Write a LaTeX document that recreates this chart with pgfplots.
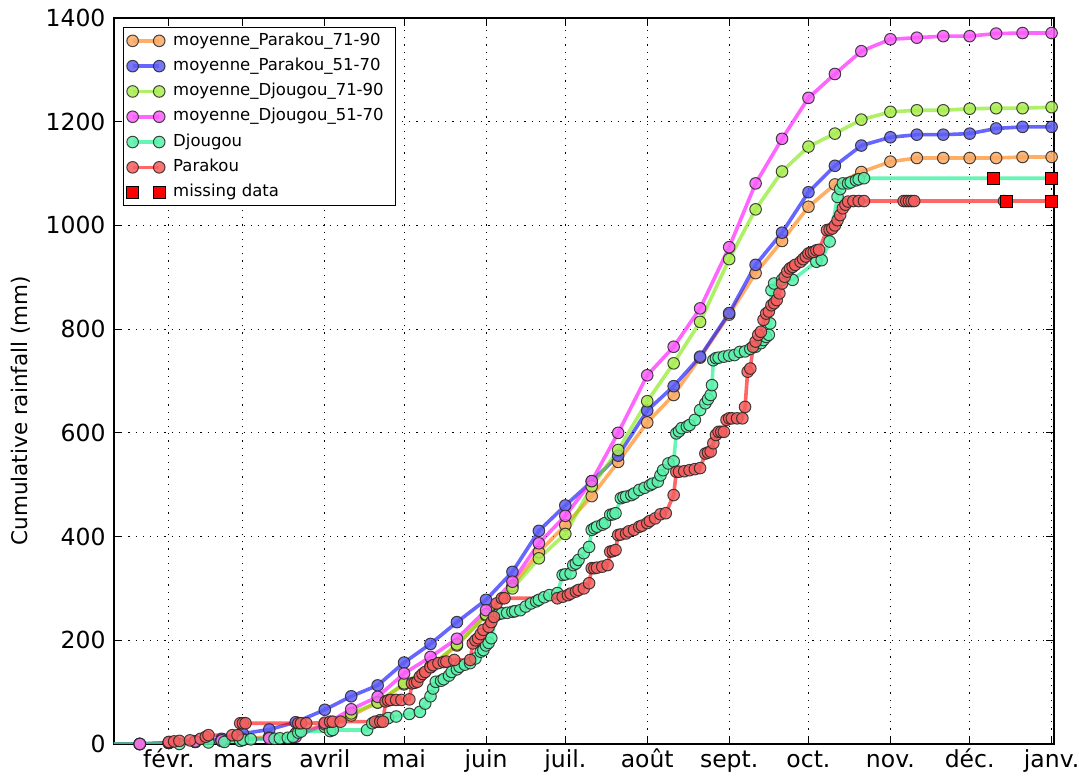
\documentclass[border=0pt]{standalone}
\usepackage{fontspec}
\setmainfont{DejaVu Sans}
\usepackage{pgfplots}
\pgfplotsset{compat=1.18}
\definecolor{cOr}{RGB}{255,120,0}
\definecolor{cBl}{RGB}{0,0,255}
\definecolor{cGr}{RGB}{120,230,0}
\definecolor{cPk}{RGB}{255,0,255}
\definecolor{cTe}{RGB}{0,240,130}
\definecolor{cRd}{RGB}{255,0,0}
\definecolor{mOr}{RGB}{250,170,100}
\definecolor{mBl}{RGB}{95,95,245}
\definecolor{mGr}{RGB}{170,238,80}
\definecolor{mPk}{RGB}{250,95,250}
\definecolor{mTe}{RGB}{90,242,170}
\definecolor{mRd}{RGB}{245,95,95}
\pgfplotsset{
  lg/.style={legend image code/.code={\draw[##1] plot coordinates {(0pt,0pt) (26.6pt,0pt)};}},
  ser/.style 2 args={color=#1, line width=3.6pt, opacity=0.6, mark=*, mark size=5.8pt,
    mark options={fill=#2, draw=black!85, line width=1pt, solid, opacity=0.85}, lg},
}
\begin{document}
\begin{tikzpicture}
\path[use as bounding box] (-114pt,-37pt) rectangle (965pt,744pt);
\begin{axis}[
  at={(0pt,0pt)}, anchor=south west,
  width=940pt, height=726pt, scale only axis,
  xmin=10.25, xmax=365.9, ymin=0, ymax=1400,
  xtick={31,59,90,120,151,181,212,243,273,304,334,365},
  xticklabels={févr.,mars,avril,mai,juin,juil.,août,sept.,oct.,nov.,déc.,janv.},
  ytick={0,200,...,1400},
  /pgf/number format/1000 sep={},
  /pgf/number format/assume math mode=true,
  grid=major,
  grid style={black, line width=0.9pt, dash pattern=on 1.2pt off 6pt},
  tick style={black, line width=1pt},
  major tick length=8pt,
  axis line style={line width=1.5pt},
  tick label style={font=\fontsize{23.5}{28}\selectfont},
  xticklabel style={text height=17pt, text depth=5pt, anchor=north, yshift=-3pt},
  yticklabel style={xshift=-5pt},
  ylabel={Cumulative rainfall (mm)},
  ylabel style={font=\fontsize{21.5}{26}\selectfont, at={(rel axis cs:0,0.459)}, anchor=center, yshift=93pt},
  legend cell align=left,
  legend style={at={(rel axis cs:0.0096,0.9876)}, anchor=north west,
    draw=black, line width=1.2pt, font=\fontsize{16.5}{20}\selectfont,
    row sep=4.8pt, inner sep=3pt,
    /tikz/every odd column/.append style={column sep=6pt},
    nodes={text height=12.5pt, text depth=4pt, inner sep=2pt}},
]
\addplot[ser={cOr}{mOr}] coordinates {(10,0)(20,0)(31,2)(41,4)(51,6)(59,10)(69,14)(79,20)(90,38)(100,55)(110,80)(120,115)(130,148)(140,190)(151,248)(161,305)(171,370)(181,422)(191,478)(201,544)(212,620)(222,673)(232,745)(243,828)(253,908)(263,970)(273,1036)(283,1079)(293,1103)(304,1123)(314,1130)(324,1130)(334,1130)(344,1130)(354,1132)(365,1132)};
\addlegendentry{moyenne\_Parakou\_71-90}
\addplot[ser={cBl}{mBl}] coordinates {(10,0)(20,0)(31,2)(41,5)(51,10)(59,20)(69,28)(79,42)(90,66)(100,92)(110,113)(120,157)(130,193)(140,235)(151,278)(161,332)(171,411)(181,460)(191,506)(201,556)(212,643)(222,690)(232,747)(243,831)(253,924)(263,986)(273,1064)(283,1115)(293,1154)(304,1170)(314,1175)(324,1175)(334,1177)(344,1187)(354,1190)(365,1190)};
\addlegendentry{moyenne\_Parakou\_51-70}
\addplot[ser={cGr}{mGr}] coordinates {(10,0)(20,0)(31,2)(41,4)(51,6)(59,8)(69,12)(79,20)(90,33)(100,59)(110,80)(120,117)(130,150)(140,192)(151,250)(161,300)(171,358)(181,405)(191,497)(201,567)(212,661)(222,734)(232,814)(243,935)(253,1031)(263,1104)(273,1152)(283,1177)(293,1204)(304,1219)(314,1222)(324,1222)(334,1225)(344,1226)(354,1226)(365,1228)};
\addlegendentry{moyenne\_Djougou\_71-90\hspace*{7pt}}
\addplot[ser={cPk}{mPk}] coordinates {(10,0)(20,0)(31,3)(41,5)(51,7)(59,9)(69,11)(79,14)(90,38)(100,67)(110,91)(120,136)(130,168)(140,203)(151,258)(161,313)(171,387)(181,440)(191,507)(201,600)(212,711)(222,766)(232,840)(243,958)(253,1081)(263,1167)(273,1246)(283,1292)(293,1336)(304,1359)(314,1362)(324,1365)(334,1365)(344,1370)(354,1371)(365,1371)};
\addlegendentry{moyenne\_Djougou\_51-70\hspace*{7pt}}
\addplot[ser={cTe}{mTe}] coordinates {(10,0)(35,0)(46,3)(52,4)(58,6)(59,8)(62,9)(71,10)(73,11)(76,12)(78,14)(80,22)(81,24)(92,25)(93,27)(106,27)(108,40)(110,43)(111,46)(114,50)(117,53)(122,58)(126,62)(128,78)(130,92)(131,107)(132,120)(134,122)(135,125)(137,132)(138,139)(140,144)(141,149)(143,153)(145,156)(147,165)(149,178)(150,181)(151,190)(152,195)(153,204)(155,249)(156,251)(157,252)(159,253)(161,255)(162,256)(164,258)(166,265)(168,271)(170,275)(171,278)(173,283)(175,287)(178,291)(180,326)(181,327)(183,329)(184,345)(185,348)(186,355)(188,368)(190,380)(191,413)(192,416)(193,419)(195,423)(196,426)(198,442)(199,443)(200,445)(202,474)(203,476)(204,477)(206,480)(207,483)(209,490)(211,494)(213,499)(214,502)(216,506)(217,518)(218,528)(220,541)(222,545)(223,599)(224,603)(225,609)(227,612)(228,615)(230,625)(232,644)(234,657)(235,665)(236,673)(236.5,692)(237,740)(238,744)(239,745)(241,747)(243,749)(245,750)(247,756)(249,757)(251,762)(253,766)(255,773)(256,779)(257,785)(258,789)(258.5,811)(259,875)(260,888)(263,895)(267,895)(276,930)(278,933)(281,969)(284,1055)(285,1070)(286,1081)(288,1081)(289,1083)(291,1087)(292,1089)(294,1091)(343,1091)(365,1091)};
\addlegendentry{Djougou}
\addplot[ser={cRd}{mRd}] coordinates {(31,4)(33,5)(35,6)(39,7)(43,10)(45,14)(46,17)(55,17)(57,17)(58,40)(59,40)(60,40)(80,40)(81,40)(83,40)(90,41)(92,43)(93,43)(96,43)(109,43)(111,43)(112,43)(113,82)(114,84)(115,85)(117,85)(119,85)(122,86)(123,117)(124,118)(125,120)(126,130)(127,135)(128,139)(130,148)(131,152)(133,156)(135,158)(136,159)(139,162)(145,162)(146,194)(147,200)(148,204)(149,212)(150,220)(152,226)(153,235)(154,245)(155,271)(157,281)(158,281)(178,281)(180,284)(182,287)(183,290)(185,294)(186,297)(188,300)(190,310)(191,339)(192,339)(193,340)(195,342)(197,345)(198,371)(199,372)(200,374)(201,403)(202,404)(204,406)(205,410)(207,413)(209,419)(210,421)(212,426)(213,430)(215,435)(217,443)(219,445)(222,480)(223,525)(224,525)(226,526)(228,528)(230,530)(232,532)(234,560)(235,562)(236,564)(237,580)(238,596)(239,602)(240,602)(241,602)(242,625)(243,628)(244,628)(246,628)(248,628)(249,650)(250,718)(251,724)(252,766)(253,776)(254,789)(255,795)(256,818)(257,830)(258,834)(259,846)(260,850)(261,856)(262,869)(263,888)(264,901)(265,911)(266,917)(267,920)(268,924)(270,930)(271,935)(272,940)(273,946)(274,948)(275,949)(276,952)(277,953)(280,991)(281,992)(282,994)(283,1000)(284,1010)(285,1020)(286,1033)(287,1040)(288,1046)(290,1047)(292,1047)(294,1047)(309,1047)(310,1047)(311,1047)(312,1047)(313,1047)(347,1047)(365,1047)};
\addlegendentry{Parakou}
\addplot[only marks, mark=square*, mark size=6pt, mark options={fill=cRd, draw=black, line width=1pt}, lg] coordinates {(343,1091)(365,1091)(348,1047)(365,1047)};
\addlegendentry{missing data}
\end{axis}
\end{tikzpicture}
\end{document}
